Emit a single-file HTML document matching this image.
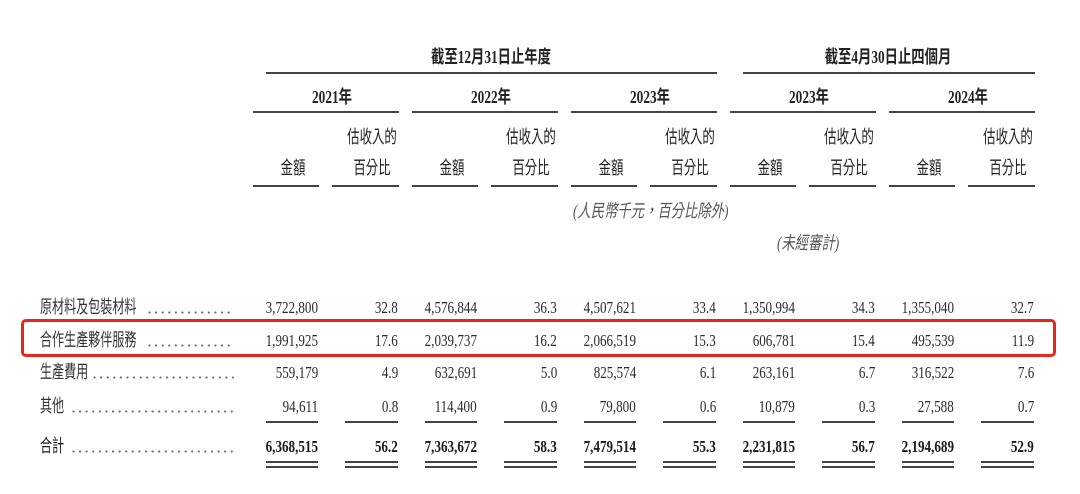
<!DOCTYPE html>
<html><head><meta charset="utf-8"><style>
html,body{margin:0;padding:0;background:#fff;}
body{width:1080px;height:494px;position:relative;overflow:hidden;}
.t{position:absolute;white-space:nowrap;line-height:20px;height:20px;}
.n{font-family:"Liberation Serif",serif;font-size:17px;transform-origin:right center;transform:scaleX(.77);color:#2a2a2a;}
.b{font-weight:bold;color:#1a1a1a;}
.c{transform:translateX(-50%) scaleX(.69);}
.cb{transform:translateX(-50%) scaleX(.74);}
.h{font-family:"Liberation Serif","Noto Sans CJK TC",sans-serif;font-size:18px;color:#222;}
.hb{font-weight:bold;font-size:18px;}
.lab{font-family:"Liberation Serif","Noto Sans CJK TC",sans-serif;font-size:18px;color:#333;transform-origin:left center;transform:scaleX(.67);}
.ln{position:absolute;height:2px;background:#444;}
.dots{position:absolute;height:3px;background-image:radial-gradient(circle at 1.5px 1.5px,#666 0.85px,transparent 1.25px);background-size:6.6px 3px;background-repeat:repeat-x;}
.note{font-family:"Liberation Serif","Noto Sans CJK TC",sans-serif;font-size:18px;color:#555;font-style:italic;transform-origin:left center;transform:scaleX(.74);}
.box{position:absolute;left:21px;top:319px;width:1035px;height:38px;box-sizing:border-box;border:3px solid #e8261c;border-radius:5px;}
</style></head><body>

<!-- titles -->
<div class="t h hb cb" style="left:491px;top:47px;">截至12月31日止年度</div>
<div class="t h hb cb" style="left:888px;top:47px;">截至4月30日止四個月</div>
<div class="ln" style="left:266px;top:72px;width:451px;"></div>
<div class="ln" style="left:743px;top:72px;width:292px;"></div>

<!-- group 1 x0=253 -->
<div class="t h hb cb" style="left:331.5px;top:87px;">2021年</div>
<div class="ln" style="left:253px;top:111px;width:146px;"></div>
<div class="t h c" style="left:372px;top:127px;">估收入的</div>
<div class="t h c" style="left:292.5px;top:158px;">金額</div>
<div class="t h c" style="left:372px;top:158px;">百分比</div>
<div class="ln" style="left:253px;top:185px;width:66px;"></div>
<div class="ln" style="left:332px;top:185px;width:67px;"></div>

<!-- group 2 x0=412 -->
<div class="t h hb cb" style="left:490.5px;top:87px;">2022年</div>
<div class="ln" style="left:412px;top:111px;width:146px;"></div>
<div class="t h c" style="left:531px;top:127px;">估收入的</div>
<div class="t h c" style="left:451.5px;top:158px;">金額</div>
<div class="t h c" style="left:531px;top:158px;">百分比</div>
<div class="ln" style="left:412px;top:185px;width:66px;"></div>
<div class="ln" style="left:491px;top:185px;width:67px;"></div>

<!-- group 3 x0=571 -->
<div class="t h hb cb" style="left:649.5px;top:87px;">2023年</div>
<div class="ln" style="left:571px;top:111px;width:146px;"></div>
<div class="t h c" style="left:690px;top:127px;">估收入的</div>
<div class="t h c" style="left:610.5px;top:158px;">金額</div>
<div class="t h c" style="left:690px;top:158px;">百分比</div>
<div class="ln" style="left:571px;top:185px;width:66px;"></div>
<div class="ln" style="left:650px;top:185px;width:67px;"></div>

<!-- group 4 x0=730 -->
<div class="t h hb cb" style="left:808.5px;top:87px;">2023年</div>
<div class="ln" style="left:730px;top:111px;width:146px;"></div>
<div class="t h c" style="left:849px;top:127px;">估收入的</div>
<div class="t h c" style="left:769.5px;top:158px;">金額</div>
<div class="t h c" style="left:849px;top:158px;">百分比</div>
<div class="ln" style="left:730px;top:185px;width:66px;"></div>
<div class="ln" style="left:809px;top:185px;width:67px;"></div>

<!-- group 5 x0=889 -->
<div class="t h hb cb" style="left:967.5px;top:87px;">2024年</div>
<div class="ln" style="left:889px;top:111px;width:146px;"></div>
<div class="t h c" style="left:1008px;top:127px;">估收入的</div>
<div class="t h c" style="left:928.5px;top:158px;">金額</div>
<div class="t h c" style="left:1008px;top:158px;">百分比</div>
<div class="ln" style="left:889px;top:185px;width:66px;"></div>
<div class="ln" style="left:968px;top:185px;width:67px;"></div>

<!-- notes -->
<div class="t note" style="left:573px;top:201px;">(人民幣千元，百分比除外)</div>
<div class="t note" style="left:777px;top:233px;">(未經審計)</div>

<!-- row labels -->
<div class="t lab" style="left:40px;top:297px;">原材料及包裝材料</div>
<div class="dots" style="left:148px;top:311px;width:86px;"></div>
<div class="t lab" style="left:40px;top:330px;">合作生產夥伴服務</div>
<div class="dots" style="left:148px;top:344px;width:86px;"></div>
<div class="t lab" style="left:40px;top:362px;">生產費用</div>
<div class="dots" style="left:93px;top:376px;width:141px;"></div>
<div class="t lab" style="left:40px;top:396px;">其他</div>
<div class="dots" style="left:72px;top:410px;width:162px;"></div>
<div class="t lab" style="left:40px;top:436px;color:#1a1a1a;">合計</div>
<div class="dots" style="left:72px;top:450px;width:162px;"></div>

<!-- row 1 -->
<div class="t n" style="right:762px;top:298px;">3,722,800</div>
<div class="t n" style="right:682px;top:298px;">32.8</div>
<div class="t n" style="right:603px;top:298px;">4,576,844</div>
<div class="t n" style="right:523px;top:298px;">36.3</div>
<div class="t n" style="right:444px;top:298px;">4,507,621</div>
<div class="t n" style="right:364px;top:298px;">33.4</div>
<div class="t n" style="right:285px;top:298px;">1,350,994</div>
<div class="t n" style="right:205px;top:298px;">34.3</div>
<div class="t n" style="right:126px;top:298px;">1,355,040</div>
<div class="t n" style="right:46px;top:298px;">32.7</div>

<!-- row 2 -->
<div class="t n" style="right:762px;top:331px;">1,991,925</div>
<div class="t n" style="right:682px;top:331px;">17.6</div>
<div class="t n" style="right:603px;top:331px;">2,039,737</div>
<div class="t n" style="right:523px;top:331px;">16.2</div>
<div class="t n" style="right:444px;top:331px;">2,066,519</div>
<div class="t n" style="right:364px;top:331px;">15.3</div>
<div class="t n" style="right:285px;top:331px;">606,781</div>
<div class="t n" style="right:205px;top:331px;">15.4</div>
<div class="t n" style="right:126px;top:331px;">495,539</div>
<div class="t n" style="right:46px;top:331px;">11.9</div>

<!-- row 3 -->
<div class="t n" style="right:762px;top:363px;">559,179</div>
<div class="t n" style="right:682px;top:363px;">4.9</div>
<div class="t n" style="right:603px;top:363px;">632,691</div>
<div class="t n" style="right:523px;top:363px;">5.0</div>
<div class="t n" style="right:444px;top:363px;">825,574</div>
<div class="t n" style="right:364px;top:363px;">6.1</div>
<div class="t n" style="right:285px;top:363px;">263,161</div>
<div class="t n" style="right:205px;top:363px;">6.7</div>
<div class="t n" style="right:126px;top:363px;">316,522</div>
<div class="t n" style="right:46px;top:363px;">7.6</div>

<!-- row 4 -->
<div class="t n" style="right:762px;top:397px;">94,611</div>
<div class="t n" style="right:682px;top:397px;">0.8</div>
<div class="t n" style="right:603px;top:397px;">114,400</div>
<div class="t n" style="right:523px;top:397px;">0.9</div>
<div class="t n" style="right:444px;top:397px;">79,800</div>
<div class="t n" style="right:364px;top:397px;">0.6</div>
<div class="t n" style="right:285px;top:397px;">10,879</div>
<div class="t n" style="right:205px;top:397px;">0.3</div>
<div class="t n" style="right:126px;top:397px;">27,588</div>
<div class="t n" style="right:46px;top:397px;">0.7</div>

<!-- single underlines -->
<div class="ln" style="left:266px;top:421px;width:52px;"></div>
<div class="ln" style="left:345px;top:421px;width:53px;"></div>
<div class="ln" style="left:425px;top:421px;width:52px;"></div>
<div class="ln" style="left:504px;top:421px;width:53px;"></div>
<div class="ln" style="left:584px;top:421px;width:52px;"></div>
<div class="ln" style="left:663px;top:421px;width:53px;"></div>
<div class="ln" style="left:743px;top:421px;width:52px;"></div>
<div class="ln" style="left:822px;top:421px;width:53px;"></div>
<div class="ln" style="left:902px;top:421px;width:52px;"></div>
<div class="ln" style="left:981px;top:421px;width:53px;"></div>

<!-- totals -->
<div class="t n b" style="right:762px;top:437px;">6,368,515</div>
<div class="t n b" style="right:682px;top:437px;">56.2</div>
<div class="t n b" style="right:603px;top:437px;">7,363,672</div>
<div class="t n b" style="right:523px;top:437px;">58.3</div>
<div class="t n b" style="right:444px;top:437px;">7,479,514</div>
<div class="t n b" style="right:364px;top:437px;">55.3</div>
<div class="t n b" style="right:285px;top:437px;">2,231,815</div>
<div class="t n b" style="right:205px;top:437px;">56.7</div>
<div class="t n b" style="right:126px;top:437px;">2,194,689</div>
<div class="t n b" style="right:46px;top:437px;">52.9</div>

<!-- double underlines -->
<div class="ln" style="left:266px;top:461px;width:52px;"></div>
<div class="ln" style="left:345px;top:461px;width:53px;"></div>
<div class="ln" style="left:425px;top:461px;width:52px;"></div>
<div class="ln" style="left:504px;top:461px;width:53px;"></div>
<div class="ln" style="left:584px;top:461px;width:52px;"></div>
<div class="ln" style="left:663px;top:461px;width:53px;"></div>
<div class="ln" style="left:743px;top:461px;width:52px;"></div>
<div class="ln" style="left:822px;top:461px;width:53px;"></div>
<div class="ln" style="left:902px;top:461px;width:52px;"></div>
<div class="ln" style="left:981px;top:461px;width:53px;"></div>
<div class="ln" style="left:266px;top:466px;width:52px;"></div>
<div class="ln" style="left:345px;top:466px;width:53px;"></div>
<div class="ln" style="left:425px;top:466px;width:52px;"></div>
<div class="ln" style="left:504px;top:466px;width:53px;"></div>
<div class="ln" style="left:584px;top:466px;width:52px;"></div>
<div class="ln" style="left:663px;top:466px;width:53px;"></div>
<div class="ln" style="left:743px;top:466px;width:52px;"></div>
<div class="ln" style="left:822px;top:466px;width:53px;"></div>
<div class="ln" style="left:902px;top:466px;width:52px;"></div>
<div class="ln" style="left:981px;top:466px;width:53px;"></div>

<!-- red highlight -->
<div class="box"></div>

</body></html>
